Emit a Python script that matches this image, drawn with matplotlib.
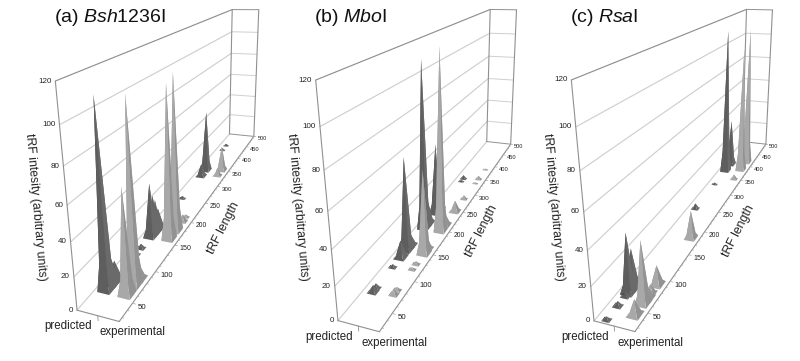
import numpy as np
import matplotlib
matplotlib.use("Agg")
import matplotlib.pyplot as plt
from matplotlib.patches import Polygon

plt.rcParams['font.family'] = ['Liberation Sans', 'DejaVu Sans']
plt.rcParams['mathtext.fontset'] = 'custom'
plt.rcParams['mathtext.it'] = 'Liberation Sans:italic'
plt.rcParams['mathtext.rm'] = 'Liberation Sans'

Y_TICKS = [0, 20, 40, 60, 80, 100, 120]
L_TICKS = [50, 100, 150, 200, 250, 300, 350, 400, 450, 500]
L_MIN = 25
L_MAX = 500
V_MAX = 120

a_pred = [(60, 109), (70, 16), (76, 12), (120, 3), (133, 3), (158, 37), (165, 27), (171, 22), (178, 14), (253, 2), (325, 10), (345, 50), (425, 2), (445, 2)]
a_exp = [(60, 63), (75, 108), (85, 10), (160, 101), (178, 105), (200, 5), (210, 2), (333, 6), (352, 21)]
b_pred = [(72, 4), (78, 3), (115, 2), (135, 11), (150, 60), (160, 8), (200, 110), (212, 16), (238, 50), (250, 8), (335, 1.5), (345, 3)]
b_exp = [(75, 3), (82, 2), (118, 1.5), (128, 2), (150, 54), (160, 6), (200, 118), (215, 8), (250, 8), (285, 3), (335, 1), (350, 3), (385, 1)]
c_pred = [(30, 2), (50, 3), (65, 3), (72, 36), (80, 24), (90, 3), (250, 4), (325, 1.5), (375, 112), (400, 38)]
c_exp = [(45, 9), (62, 37), (70, 8), (78, 5), (92, 12), (183, 19), (350, 4), (385, 98), (415, 110)]

panels = [
    dict(title=("(a) ", "Bsh", "1236I"), title_xy=(54, 18), peaks=(a_pred, a_exp),
         origin=(77.3, 310), top=(55.3, 81), right=(119, 321.7),
         back=(229.3, 134.3), back_r=(254, 136), back_t=(232.3, 9.3), back_tr=(258.7, 10),
         pred_xy=(44, 326), exp_xy=(100, 332), yl_xy=(35, 207), ll_xy=(224, 228)),
    dict(title=("(b) ", "Mbo", "I"), title_xy=(314, 18), peaks=(b_pred, b_exp),
         origin=(338.3, 320.7), top=(315.7, 80), right=(379, 331.7),
         back=(486.7, 141.7), back_r=(510.7, 144), back_t=(490, 9.3), back_tr=(516.7, 10),
         pred_xy=(305, 337), exp_xy=(361, 343), yl_xy=(297, 207), ll_xy=(482, 231)),
    dict(title=("(c) ", "Rsa", "I"), title_xy=(570, 18), peaks=(c_pred, c_exp),
         origin=(594, 320.7), top=(571.3, 80), right=(635, 331.7),
         back=(742.3, 141.7), back_r=(766, 144), back_t=(746.7, 9.3), back_tr=(772.3, 10),
         pred_xy=(561, 337), exp_xy=(617, 343), yl_xy=(553, 207), ll_xy=(739, 231)),
]


def norm_l(l):
    return (l - L_MIN) / (L_MAX - L_MIN)


def solve_projection(p):
    world = [(0, L_MIN, 0), (0, L_MIN, V_MAX), (2, L_MIN, 0), (0, L_MAX, 0), (2, L_MAX, 0), (0, L_MAX, V_MAX), (2, L_MAX, V_MAX)]
    pix = [p['origin'], p['top'], p['right'], p['back'], p['back_r'], p['back_t'], p['back_tr']]
    A = []
    for (s, l, v), (u, w) in zip(world, pix):
        X = [s, norm_l(l), v / V_MAX, 1]
        A.append(X + [0, 0, 0, 0] + [-u * x for x in X])
        A.append([0, 0, 0, 0] + X + [-w * x for x in X])
    _, _, vt = np.linalg.svd(np.array(A, dtype=float))
    return vt[-1].reshape(3, 4)


def projector(P):
    def f(s, l, v):
        h = P @ np.array([s, norm_l(l), v / V_MAX, 1.0])
        return h[0] / h[2], h[1] / h[2]
    def depth(l):
        a = (P @ np.array([2, 0, 0, 1.0]))[2]
        b = (P @ np.array([2, norm_l(l), 0, 1.0]))[2]
        return a / b
    return f, depth


fig = plt.figure(figsize=(8, 3.61), dpi=100, facecolor='white')
ax = fig.add_axes([0, 0, 1, 1])
ax.set_xlim(0, 800)
ax.set_ylim(361, 0)
ax.axis('off')

GRID = '#cfcfcf'
EDGE = '#909090'
TXT = '#222222'
COLS = [dict(front='#5e5e5e', left='#3e3e3e', right='#6a6a6a', back='#707070'),
        dict(front='#a8a8a8', left='#8e8e8e', right='#929292', back='#b4b4b4')]
S_POS = [0.5, 1.5]

for p in panels:
    P = solve_projection(p)
    f, depth = projector(P)

    def line(a, b, c='#888888', lw=0.8, z=2):
        q = [f(*a), f(*b)]
        ax.plot([q[0][0], q[1][0]], [q[0][1], q[1][1]], color=c, lw=lw, zorder=z, solid_capstyle='round')

    for v in Y_TICKS:
        c = EDGE if v == V_MAX else GRID
        line((0, L_MIN, v), (0, L_MAX, v), c=c, lw=0.85)
        line((0, L_MAX, v), (2, L_MAX, v), c=c if v else EDGE, lw=0.7)
        x, y = f(0, L_MIN, v)
        ax.text(x - 4, y, str(v), ha='right', va='center', fontsize=5.8, color=TXT, zorder=6)
    line((0, L_MIN, 0), (0, L_MIN, V_MAX), c=EDGE)
    line((0, L_MAX, 0), (0, L_MAX, V_MAX), c=EDGE)
    line((2, L_MAX, 0), (2, L_MAX, V_MAX), c=EDGE)
    line((0, L_MIN, 0), (2, L_MIN, 0), c=EDGE)
    line((2, L_MIN, 0), (2, L_MAX, 0), c=EDGE)
    line((1, L_MIN, 0), (1, L_MIN, -3), c=EDGE, lw=0.6)

    for l in range(30, L_MAX + 1, 10):
        line((2, l, 0), (2.16 if l in L_TICKS else 2.08, l, 0), c='#a8a8a8', lw=0.5)
    for l in L_TICKS:
        x, y = f(2.2, l, 0)
        sc = depth(l)
        ax.text(x + 1, y + 3 * sc ** 0.6, str(l), ha='left', va='center', fontsize=max(2.5, 5.8 * sc ** 0.55), color=TXT, zorder=6)

    items = []
    for k, series in enumerate(p['peaks']):
        for l, v in series:
            items.append((l, k, v))
    items.sort(key=lambda t: (-t[0], t[1]))
    for l, k, v in items:
        s = S_POS[k]
        hw_s = 0.3 if v > 8 else 0.16 + 0.0175 * v
        hw_l = 7 if v > 8 else 2 + 0.6 * v
        apex = f(s, l, v)
        a = f(s - hw_s, l - hw_l, 0)
        b = f(s + hw_s, l - hw_l, 0)
        c = f(s + hw_s, l + hw_l, 0)
        d = f(s - hw_s, l + hw_l, 0)
        # shoulder points give the peak a slightly flared foot
        kn = 0.15
        fl = 0.62
        def sh(ss, ll):
            return f(s + (ss - s) * fl, l + (ll - l) * fl, v * kn)
        a2 = sh(s - hw_s, l - hw_l)
        b2 = sh(s + hw_s, l - hw_l)
        c2 = sh(s + hw_s, l + hw_l)
        d2 = sh(s - hw_s, l + hw_l)
        col = COLS[k]
        ax.add_patch(Polygon([apex, d2, d, c, c2], fc=col['back'], ec='none', zorder=3))
        ax.add_patch(Polygon([apex, a2, a, d, d2], fc=col['left'], ec='none', zorder=3))
        ax.add_patch(Polygon([apex, b2, b, c, c2], fc=col['right'], ec='none', zorder=3))
        ax.add_patch(Polygon([apex, a2, a, b, b2], fc=col['front'], ec='none', zorder=3))

    x, y = p['title_xy']
    a, b, c = p['title']
    ax.text(x, y, a + '$\\mathit{' + b + '}$' + c, fontsize=14, ha='left', va='center', color='#111111')
    ax.text(*p['pred_xy'], 'predicted', fontsize=8.3, ha='left', va='center', color=TXT)
    ax.text(*p['exp_xy'], 'experimental', fontsize=8.3, ha='left', va='center', color=TXT)
    ax.text(*p['yl_xy'], 'tRF intesity (arbitrary units)', fontsize=8.8, rotation=-85, rotation_mode='anchor',
            ha='center', va='center', color=TXT)
    ax.text(*p['ll_xy'], 'tRF length', fontsize=8.8, rotation=63, rotation_mode='anchor', ha='center', va='center', color=TXT)

fig.savefig('out.png', dpi=100)
